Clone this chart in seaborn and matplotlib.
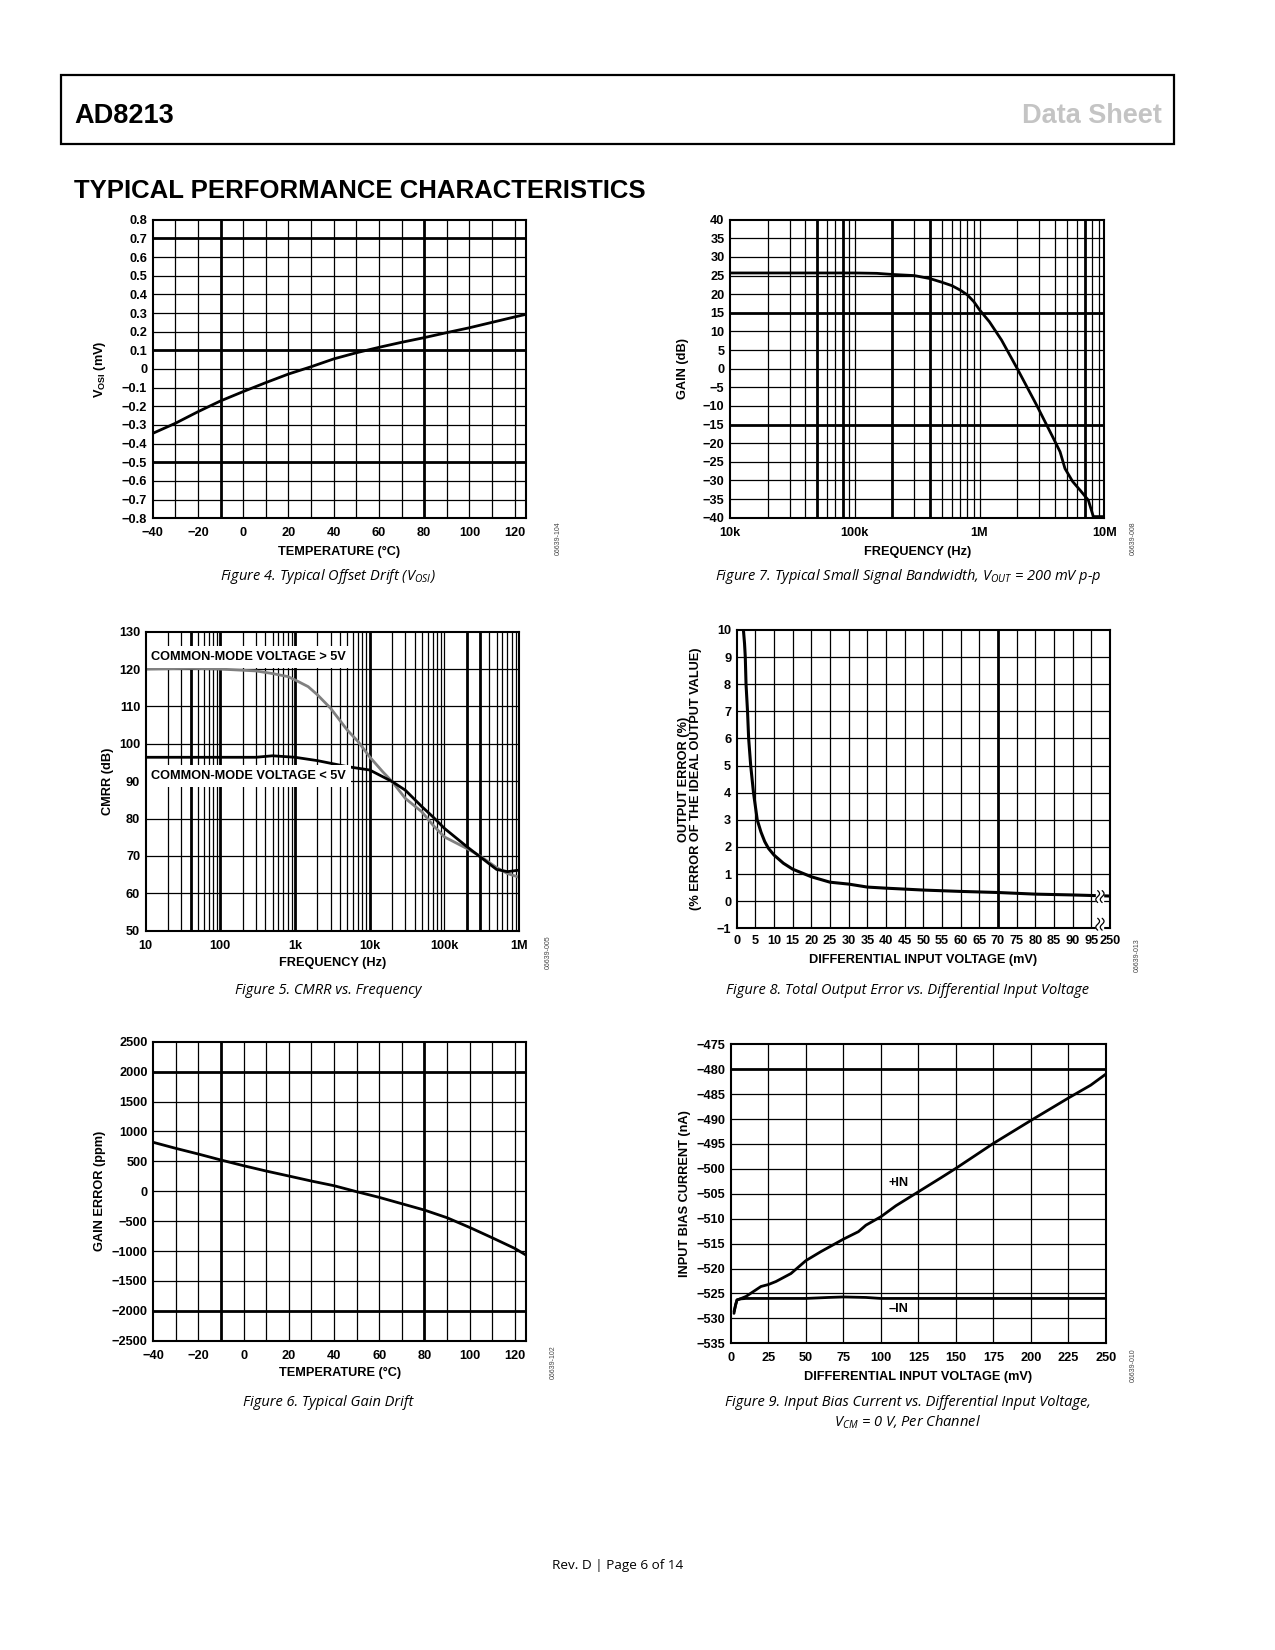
import numpy as np
import pandas as pd
import seaborn as sns
import matplotlib.pyplot as plt
import matplotlib.transforms as mtrans
from matplotlib.patches import Rectangle
from matplotlib.ticker import NullLocator

# --- Figure 4 / Figure 6: drift vs temperature ---
temp_c = [-40, -30, -20, -10, 0, 10, 20, 30, 40, 50, 60, 70, 80, 90, 100, 110, 120, 125]
vosi_mv = [-0.345, -0.291, -0.229, -0.171, -0.121, -0.073, -0.027, 0.012, 0.054, 0.087,
           0.116, 0.143, 0.168, 0.195, 0.221, 0.250, 0.279, 0.293]
gain_err_ppm = [817, 716, 621, 521, 426, 337, 254, 170, 92, -8, -103, -209, -315, -443,
                -605, -778, -956, -1068]

# --- Figure 7: small signal bandwidth ---
bw_freq_hz = [1e4, 3e4, 1e5, 1.5e5, 2e5, 3e5, 4e5, 5e5, 6e5, 7e5, 8e5, 9e5, 1e6, 1.2e6,
              1.5e6, 2e6, 2.87e6, 3.91e6, 4.42e6, 4.84e6, 5.58e6, 6.39e6, 7.45e6, 8.17e6, 1e7]
bw_gain_db = [25.7, 25.7, 25.7, 25.6, 25.3, 25.0, 24.2, 23.2, 22.3, 21.1, 19.8, 18.0, 15.8, 12.6,
              7.7, 0.1, -9.8, -18.7, -22.3, -26.8, -30.3, -32.6, -35.3, -39.7, -39.7]

# --- Figure 5: CMRR vs frequency ---
cmrr_hi_freq = [10, 40, 100, 300, 500, 800, 1e3, 1.5e3, 2e3, 3e3, 5e3, 7e3, 1e4, 1.5e4, 2e4,
                3e4, 5e4, 7e4, 1e5, 2e5, 3e5, 5e5, 7e5, 1e6]
cmrr_hi_db = [120.0, 120.2, 120.0, 119.5, 118.8, 118.0, 117.1, 115.3, 113.1, 109.5, 103.7, 100.6,
              96.5, 92.5, 89.9, 85.4, 81.8, 78.3, 75.1, 72.0, 70.0, 66.9, 65.3, 64.3]
cmrr_lo_freq = [10, 100, 300, 500, 1e3, 2e3, 5e3, 1e4, 2e4, 3e4, 5e4, 7e4, 1e5, 2e5, 3e5,
                5e5, 7e5, 1e6]
cmrr_lo_db = [96.4, 96.4, 96.4, 96.8, 96.4, 95.5, 93.9, 93.0, 89.9, 87.6, 83.2, 80.5, 77.4,
              72.5, 69.8, 66.4, 65.8, 66.2]

# --- Figure 8: total output error ---
err_vdiff_mv = [1.8, 2.1, 2.3, 2.5, 2.7, 2.9, 3.2, 3.75, 4.5, 5.5, 6.5, 7.5, 8.5, 10, 12.5, 15,
                20, 25, 30, 35, 40, 50, 60, 70, 80, 90, 95, 250]
err_pct = [10.0, 9.5, 9.0, 8.0, 7.5, 7.0, 6.0, 5.0, 4.0, 3.0, 2.55, 2.2, 1.95, 1.7, 1.4, 1.18,
           0.9, 0.7, 0.63, 0.52, 0.48, 0.41, 0.36, 0.32, 0.26, 0.23, 0.21, 0.19]
err_xticks = [0, 5, 10, 15, 20, 25, 30, 35, 40, 45, 50, 55, 60, 65, 70, 75, 80, 85, 90, 95, 250]

# --- Figure 9: input bias current ---
ib_plus_mv = [2, 3, 4, 6, 10, 15, 20, 25, 30, 40, 50, 60, 75, 85, 90, 100, 110, 125, 140, 150,
              175, 200, 225, 240, 250]
ib_plus_na = [-529.0, -527.3, -526.3, -526.1, -525.6, -524.6, -523.6, -523.2, -522.6, -521.0,
              -518.4, -516.6, -514.1, -512.6, -511.3, -509.6, -507.4, -504.6, -501.8, -499.9,
              -494.9, -490.3, -485.8, -483.2, -481.0]
ib_minus_mv = [2, 4, 6, 10, 50, 65, 75, 90, 100, 250]
ib_minus_na = [-528.6, -526.3, -526.1, -526.0, -526.0, -525.8, -525.7, -525.8, -526.0, -526.0]

W, H = 1275, 1650
TICK_FS = 9.2
LABEL_FS = 9.2

sns.set_theme(style="white", rc={"axes.edgecolor": "black", "text.color": "black",
                                 "xtick.color": "black", "ytick.color": "black",
                                 "axes.labelcolor": "black"})
plt.rcParams['font.family'] = ['Liberation Sans', 'DejaVu Sans']
plt.rcParams['font.weight'] = 'bold'
plt.rcParams['axes.labelweight'] = 'bold'

fig = plt.figure(figsize=(W / 100, H / 100), dpi=100)

CAP_FONT = ['Open Sans', 'DejaVu Sans']


def add_panel(l, t, r, b):
    return fig.add_axes([l / W, 1 - b / H, (r - l) / W, (b - t) / H])


def draw_grid(ax, xs, ys, thick_x=(), thick_y=()):
    for x in xs:
        lw = 2.0 if np.any(np.isclose(x, thick_x)) else 0.9
        ax.axvline(x, color='black', lw=lw, zorder=1)
    for y in ys:
        lw = 2.0 if np.any(np.isclose(y, thick_y)) else 0.9
        ax.axhline(y, color='black', lw=lw, zorder=1)


def finish(ax, xlabel, ylabel, xl_pos, yl_pos, xpad=6.5):
    ax.set_xlabel(xlabel, fontsize=LABEL_FS, va='center')
    ax.set_ylabel(ylabel, fontsize=LABEL_FS, va='center', linespacing=0.95)
    ax.xaxis.set_label_coords(0.5, xl_pos)
    ax.yaxis.set_label_coords(yl_pos, 0.5)
    ax.tick_params(axis='both', length=0, labelsize=TICK_FS)
    ax.tick_params(axis='x', pad=xpad)
    ax.tick_params(axis='y', pad=4)
    for s in ax.spines.values():
        s.set_linewidth(1.5)
        s.set_color('black')
        s.set_zorder(5)


def caption(x, y, s):
    fig.text(x / W, 1 - y / H, s, ha='center', va='center', fontsize=10.5, style='italic',
             fontweight='normal', family=CAP_FONT)


def code(x, y, s):
    fig.text(x / W, 1 - y / H, s, ha='center', va='center', rotation=90, fontsize=5,
             fontweight='normal', color='#444444')


def log_minors(lo_exp, hi_exp):
    return [m * 10.0 ** e for e in range(lo_exp, hi_exp) for m in range(2, 10)] + \
           [10.0 ** e for e in range(lo_exp + 1, hi_exp)]


# ---------------- header ----------------
fig.add_artist(Rectangle((61 / W, 1 - 144 / H), (1174 - 61) / W, (144 - 75) / H,
                         transform=fig.transFigure, fill=False, lw=1.6, edgecolor='black'))
fig.text(74 / W, 1 - 123 / H, 'AD8213', fontsize=19.5, va='baseline')
fig.text(1162 / W, 1 - 123 / H, 'Data Sheet', fontsize=19.5, va='baseline', ha='right',
         color='#c4c4c4')
fig.text(74 / W, 1 - 198 / H, 'TYPICAL PERFORMANCE CHARACTERISTICS', fontsize=18.5,
         va='baseline')

# ---------------- Figure 4 ----------------
ax = add_panel(152.7, 219.7, 526, 518.3)
sns.lineplot(x=temp_c, y=vosi_mv, ax=ax, color='black', lw=2.0, zorder=3)
ax.set_xlim(-40, 125)
ax.set_ylim(-0.8, 0.8)
draw_grid(ax, np.arange(-30, 121, 10), np.round(np.arange(-0.7, 0.75, 0.1), 2),
          thick_x=[-10, 80], thick_y=[0.7, 0.1, -0.5])
ax.set_xticks(range(-40, 121, 20))
yt4 = np.round(np.arange(-0.8, 0.85, 0.1), 2)
ax.set_yticks(yt4)
ax.set_yticklabels(['0' if abs(v) < 1e-9 else f'{v:.1f}'.replace('-', '\u2212') for v in yt4])
finish(ax, 'TEMPERATURE (°C)', r'V$_\mathregular{OSI}$ (mV)', -0.112, -0.14)
caption(328, 577, r'Figure 4. Typical Offset Drift (V$_\mathregular{OSI}$)')
code(558, 538, '06639-104')

# ---------------- Figure 7 ----------------
ax = add_panel(730, 219.7, 1104.3, 517.7)
sns.lineplot(x=bw_freq_hz, y=bw_gain_db, ax=ax, color='black', lw=2.0, zorder=3)
ax.set_xscale('log')
ax.set_xlim(1e4, 1e7)
ax.set_ylim(-40, 40)
draw_grid(ax, log_minors(4, 7), range(-35, 40, 5),
          thick_x=[5e4, 8e4, 2e5, 4e5, 7e6], thick_y=[15, -15])
ax.set_xticks([1e4, 1e5, 1e6, 1e7])
ax.set_xticklabels(['10k', '100k', '1M', '10M'])
ax.xaxis.set_minor_locator(NullLocator())
ax.set_yticks(range(-40, 41, 5))
finish(ax, 'FREQUENCY (Hz)', 'GAIN (dB)', -0.114, -0.125)
caption(908, 577, r'Figure 7. Typical Small Signal Bandwidth, V$_\mathregular{OUT}$ = 200 mV p-p')
code(1133, 538, '06639-008')

# ---------------- Figure 5 ----------------
ax = add_panel(145.7, 631.7, 519, 930.7)
sns.lineplot(x=cmrr_hi_freq, y=cmrr_hi_db, ax=ax, color='#808080', lw=2.0, zorder=3)
sns.lineplot(x=cmrr_lo_freq, y=cmrr_lo_db, ax=ax, color='black', lw=2.0, zorder=3)
ax.set_xscale('log')
ax.set_xlim(10, 1e6)
ax.set_ylim(50, 130)
draw_grid(ax, log_minors(1, 6), range(60, 130, 10), thick_x=[40, 100, 1e3, 1e4, 2e5, 3e5])
ax.set_xticks([10, 100, 1e3, 1e4, 1e5, 1e6])
ax.set_xticklabels(['10', '100', '1k', '10k', '100k', '1M'])
ax.xaxis.set_minor_locator(NullLocator())
ax.set_yticks(range(50, 131, 10))
for yv, s in ((123.3, 'COMMON-MODE VOLTAGE > 5V'), (91.4, 'COMMON-MODE VOLTAGE < 5V')):
    ax.text(11.8, yv, s, fontsize=LABEL_FS, va='center', zorder=4,
            bbox=dict(facecolor='white', edgecolor='none', pad=3.5))
finish(ax, 'FREQUENCY (Hz)', 'CMRR (dB)', -0.109, -0.1)
caption(328, 990, 'Figure 5. CMRR vs. Frequency')
code(548, 952, '06639-005')

# ---------------- Figure 8 ----------------
ax = add_panel(736.7, 630, 1110, 928.3)


def brk_fwd(x):
    x = np.asarray(x, float)
    return np.where(x <= 95, x, 95 + (x - 95) * 5 / 155)


def brk_inv(p):
    p = np.asarray(p, float)
    return np.where(p <= 95, p, 95 + (p - 95) * 155 / 5)


ax.set_xscale('function', functions=(brk_fwd, brk_inv))
sns.lineplot(x=err_vdiff_mv, y=err_pct, ax=ax, color='black', lw=2.2, zorder=3, sort=False)
ax.set_xlim(0, 250)
ax.set_ylim(-1, 10)
draw_grid(ax, range(5, 96, 5), range(0, 10), thick_x=[70])
ax.set_xticks(err_xticks)
ax.set_xticklabels([str(v) for v in err_xticks])
ax.xaxis.set_minor_locator(NullLocator())
ax.set_yticks(range(-1, 11))
# axis break marks
bt = mtrans.blended_transform_factory(ax.transAxes, ax.transData)
tt = np.linspace(-1, 1, 40)
for yc in (0.17, -0.85):
    ax.plot(0.973 + 0.0 * tt, yc + 0.22 * tt, color='white', lw=6, transform=bt, zorder=6,
            clip_on=False)
    for dx in (-0.006, 0.006):
        ax.plot(0.973 + dx + 0.005 * np.sin(tt * np.pi), yc + 0.22 * tt, color='black', lw=0.9,
                transform=bt, zorder=7, clip_on=False)
finish(ax, 'DIFFERENTIAL INPUT VOLTAGE (mV)',
       'OUTPUT ERROR (%)\n(% ERROR OF THE IDEAL OUTPUT VALUE)', -0.106, -0.125, xpad=5)
caption(908, 990, 'Figure 8. Total Output Error vs. Differential Input Voltage')
code(1137, 955, '06639-013')

# ---------------- Figure 6 ----------------
ax = add_panel(153.3, 1041.7, 526, 1340.7)
sns.lineplot(x=temp_c, y=gain_err_ppm, ax=ax, color='black', lw=2.0, zorder=3)
ax.set_xlim(-40, 125)
ax.set_ylim(-2500, 2500)
draw_grid(ax, np.arange(-30, 121, 10), range(-2000, 2001, 500),
          thick_x=[-10, 80], thick_y=[2000, -2000])
ax.set_xticks(range(-40, 121, 20))
ax.set_yticks(range(-2500, 2501, 500))
finish(ax, 'TEMPERATURE (°C)', 'GAIN ERROR (ppm)', -0.109, -0.142)
caption(328, 1403, 'Figure 6. Typical Gain Drift')
code(553, 1362, '06639-102')

# ---------------- Figure 9 ----------------
ax = add_panel(731, 1044.3, 1105.7, 1343.3)
sns.lineplot(x=ib_plus_mv, y=ib_plus_na, ax=ax, color='black', lw=2.0, zorder=3)
sns.lineplot(x=ib_minus_mv, y=ib_minus_na, ax=ax, color='black', lw=2.0, zorder=3)
ax.set_xlim(0, 250)
ax.set_ylim(-535, -475)
draw_grid(ax, range(25, 250, 25), range(-530, -475, 5), thick_y=[-480])
ax.set_xticks(range(0, 251, 25))
ax.set_yticks(range(-535, -474, 5))
ax.text(111.7, -502.9, '+IN', fontsize=TICK_FS, ha='center', va='center', zorder=4)
ax.text(111.7, -528.1, '\u2013IN', fontsize=TICK_FS, ha='center', va='center', zorder=4)
finish(ax, 'DIFFERENTIAL INPUT VOLTAGE (mV)', 'INPUT BIAS CURRENT (nA)', -0.112, -0.122, xpad=6)
caption(908, 1402, 'Figure 9. Input Bias Current vs. Differential Input Voltage,')
caption(908, 1422, r'V$_\mathregular{CM}$ = 0 V, Per Channel')
code(1133, 1365, '06639-010')

# ---------------- footer ----------------
fig.text(618 / W, 1 - 1566 / H, 'Rev. D | Page 6 of 14', ha='center', va='center', fontsize=9.7,
         fontweight='normal', family=CAP_FONT)

fig.savefig('out.png', dpi=100)
